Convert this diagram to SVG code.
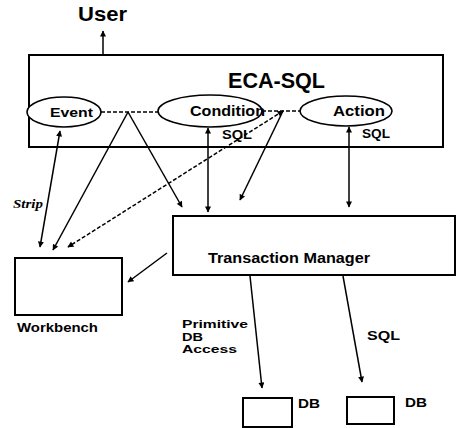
<svg xmlns="http://www.w3.org/2000/svg" width="458" height="428" viewBox="0 0 458 428">
<defs>
<marker id="ah" viewBox="0 0 10 10" refX="9" refY="5" markerWidth="7" markerHeight="6" markerUnits="userSpaceOnUse" orient="auto-start-reverse">
<path d="M0,0 L10,5 L0,10 z" fill="#000"/>
</marker>
<style>
.box{fill:#fff;stroke:#000;stroke-width:2}
.ell{fill:#fff;stroke:#000;stroke-width:1.6}
.ln{stroke:#000;stroke-width:1.5;fill:none}
.dash{stroke:#000;stroke-width:1.5;fill:none;stroke-dasharray:4,2}
.t{font-family:"Liberation Sans",Arial,sans-serif;font-weight:bold;fill:#000}
.it{font-family:"Liberation Serif","Times New Roman",serif;font-weight:bold;font-style:italic;fill:#000}
</style>
</defs>
<rect width="458" height="428" fill="#fff"/>
<g id="user"><text class="t" x="78" y="21" font-size="20" textLength="49" lengthAdjust="spacingAndGlyphs">User</text></g>
<g id="eca-sql">
<rect class="box" x="29" y="55" width="414" height="92"/>
<text class="t" x="228" y="88" font-size="21.5" textLength="97" lengthAdjust="spacingAndGlyphs">ECA-SQL</text>
</g>
<g id="event">
<ellipse class="ell" cx="64" cy="112" rx="37" ry="15"/>
<text class="t" x="50" y="117" font-size="13" textLength="43" lengthAdjust="spacingAndGlyphs">Event</text>
</g>
<g id="condition">
<ellipse class="ell" cx="210" cy="111" rx="52" ry="16"/>
<text class="t" x="190" y="116" font-size="15" textLength="75" lengthAdjust="spacingAndGlyphs">Condition</text>
</g>
<g id="action">
<ellipse class="ell" cx="346" cy="111" rx="46" ry="15"/>
<text class="t" x="333" y="116" font-size="14" textLength="52" lengthAdjust="spacingAndGlyphs">Action</text>
</g>
<g id="transaction-manager">
<rect class="box" x="173" y="216" width="282" height="59"/>
<text class="t" x="208" y="263" font-size="14.5" textLength="162" lengthAdjust="spacingAndGlyphs">Transaction Manager</text>
</g>
<g id="workbench">
<rect class="box" x="15" y="258" width="107" height="57"/>
<text class="t" x="17" y="332" font-size="12.5" textLength="81" lengthAdjust="spacingAndGlyphs">Workbench</text>
</g>
<g id="db1">
<rect class="box" x="243" y="398" width="49" height="29"/>
<text class="t" x="298" y="408" font-size="12" textLength="22" lengthAdjust="spacingAndGlyphs">DB</text>
</g>
<g id="db2">
<rect class="box" x="347" y="397" width="47" height="27"/>
<text class="t" x="405" y="407" font-size="12" textLength="22" lengthAdjust="spacingAndGlyphs">DB</text>
</g>
<g id="connectors">
<line class="ln" x1="103" y1="55" x2="103" y2="31" marker-end="url(#ah)"/>
<line class="dash" x1="101" y1="112" x2="158" y2="112"/>
<line class="dash" x1="262" y1="111" x2="300" y2="111"/>
<line class="ln" x1="60" y1="131" x2="40" y2="247" marker-start="url(#ah)" marker-end="url(#ah)"/>
<line class="ln" x1="128" y1="112" x2="53" y2="250" marker-end="url(#ah)"/>
<line class="ln" x1="128" y1="112" x2="182" y2="207" marker-end="url(#ah)"/>
<line class="dash" x1="283" y1="111" x2="68" y2="247" marker-start="url(#ah)" marker-end="url(#ah)"/>
<line class="ln" x1="283" y1="111" x2="240" y2="200" marker-end="url(#ah)"/>
<line class="ln" x1="208" y1="128" x2="208" y2="212" marker-start="url(#ah)" marker-end="url(#ah)"/>
<line class="ln" x1="349" y1="127" x2="349" y2="207" marker-start="url(#ah)" marker-end="url(#ah)"/>
<line class="ln" x1="167" y1="253" x2="128" y2="282" marker-end="url(#ah)"/>
<line class="ln" x1="250" y1="276" x2="262" y2="388" marker-end="url(#ah)"/>
<line class="ln" x1="343" y1="276" x2="362" y2="382" marker-end="url(#ah)"/>
<text class="t" x="222" y="139" font-size="12" textLength="30" lengthAdjust="spacingAndGlyphs">SQL</text>
<text class="t" x="362" y="138" font-size="12" textLength="28" lengthAdjust="spacingAndGlyphs">SQL</text>
<text class="it" x="13" y="208" font-size="12" textLength="30" lengthAdjust="spacingAndGlyphs">Strip</text>
<text class="t" x="182" y="328" font-size="10.5" textLength="66" lengthAdjust="spacingAndGlyphs">Primitive</text>
<text class="t" x="182" y="340.5" font-size="10.5" textLength="21" lengthAdjust="spacingAndGlyphs">DB</text>
<text class="t" x="182" y="353" font-size="10.5" textLength="55" lengthAdjust="spacingAndGlyphs">Access</text>
<text class="t" x="367" y="340" font-size="12.5" textLength="33" lengthAdjust="spacingAndGlyphs">SQL</text>
</g>
</svg>
